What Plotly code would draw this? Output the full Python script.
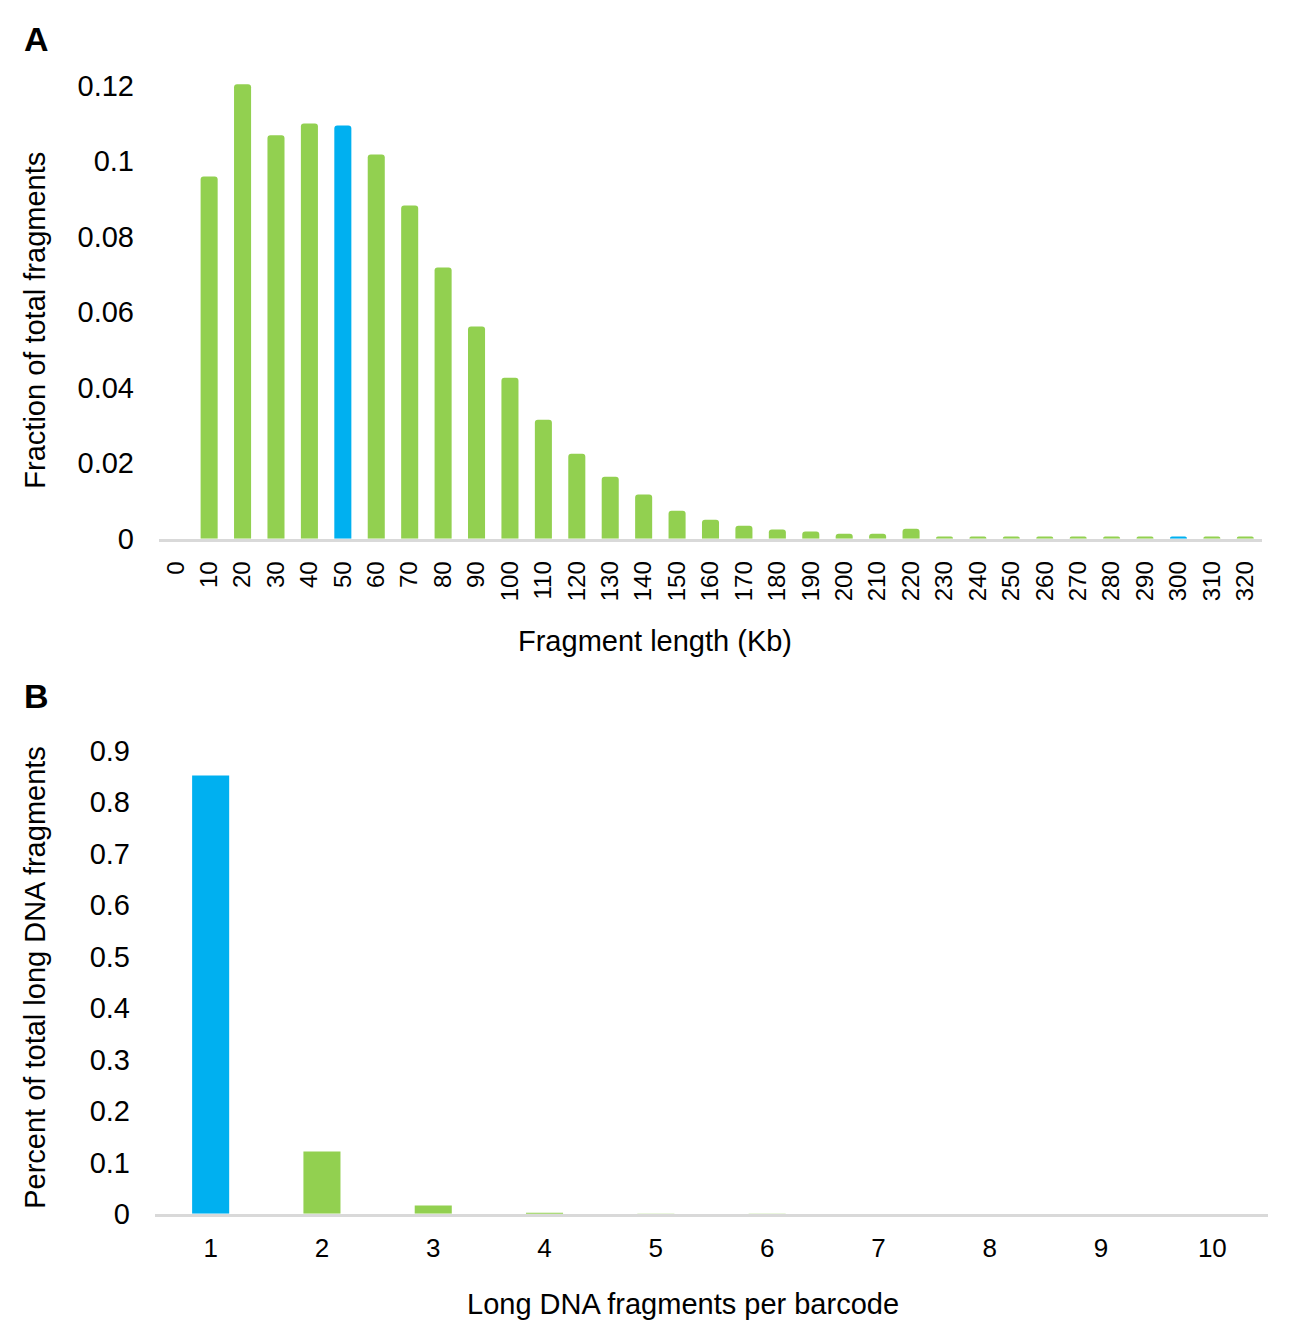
import plotly.graph_objects as go

W, H = 1274, 1345
OFFX, OFFY = 8, 24
YS = 0.976  # vertical scale observed between page and picture

# Panel A data
lengths_kb = [str(v) for v in range(0, 330, 10)]
fraction = [0, 0.0959, 0.1203, 0.1068, 0.1099, 0.1094, 0.1017, 0.0882, 0.0718, 0.0562,
            0.0426, 0.0315, 0.0225, 0.0164, 0.0117, 0.0074, 0.0050, 0.0034, 0.0024, 0.0019,
            0.0013, 0.0013, 0.0026, 0.0006, 0.0006, 0.0006, 0.0006, 0.0006, 0.0006, 0.0006,
            0.0006, 0.0006, 0.0006]
highlight_a = ["50", "300"]

# Panel B data
per_barcode = [str(v) for v in range(1, 11)]
percent = [0.852, 0.121, 0.016, 0.0008, 0.0002, 0.0001, 0, 0, 0, 0]
highlight_b = ["1"]

GREEN = "#92D050"
BLUE = "#00B0F0"
AXIS = "#D9D9D9"
FONT = "Liberation Sans, Arial, sans-serif"

cols_a = [BLUE if c in highlight_a else GREEN for c in lengths_kb]
cols_b = [BLUE if c in highlight_b else GREEN for c in per_barcode]

def px(x):
    return (x - OFFX) / W

def py(y):
    return 1 - (y / YS - OFFY) / H

fig = go.Figure()
fig.add_trace(go.Bar(x=lengths_kb, y=fraction, marker=dict(color=cols_a, cornerradius=3, line=dict(width=0)),
                     xaxis="x", yaxis="y", showlegend=False))
fig.add_trace(go.Bar(x=per_barcode, y=percent, marker=dict(color=cols_b, line=dict(width=0)),
                     width=0.333, xaxis="x2", yaxis="y2", showlegend=False))

ytickfont = dict(family=FONT, size=29, color="#000000")

fig.update_layout(
    width=W, height=H,
    margin=dict(l=0, r=0, t=0, b=0),
    paper_bgcolor="white", plot_bgcolor="white",
    bargap=0.49,
    font=dict(family=FONT, color="#000000"),
    xaxis=dict(domain=[px(159), px(1262)], anchor="y", type="category",
               showline=True, linecolor=AXIS, linewidth=3, showgrid=False, zeroline=False,
               tickangle=-90, tickfont=dict(family=FONT, size=24, color="#000000"),
               ticks="", ticklabelstandoff=10),
    yaxis=dict(domain=[py(538), py(83)], anchor="x", range=[0, 0.1205],
               tickvals=[0, 0.02, 0.04, 0.06, 0.08, 0.1, 0.12],
               ticktext=["0", "0.02", "0.04", "0.06", "0.08", "0.1", "0.12"],
               showgrid=False, zeroline=False, showline=False, ticks="",
               tickfont=ytickfont, ticklabelstandoff=24),
    xaxis2=dict(domain=[px(155), px(1268)], anchor="y2", type="category",
                showline=True, linecolor=AXIS, linewidth=3, showgrid=False, zeroline=False,
                tickfont=dict(family=FONT, size=26, color="#000000"), ticks="", ticklabelstandoff=9),
    yaxis2=dict(domain=[py(1213), py(750)], anchor="x2", range=[0, 0.9],
                tickvals=[0, 0.1, 0.2, 0.3, 0.4, 0.5, 0.6, 0.7, 0.8, 0.9],
                ticktext=["0", "0.1", "0.2", "0.3", "0.4", "0.5", "0.6", "0.7", "0.8", "0.9"],
                showgrid=False, zeroline=False, showline=False, ticks="",
                tickfont=ytickfont, ticklabelstandoff=24),
)

ann = []
def add_text(text, x, y, size, angle=0, bold=False):
    ann.append(dict(text=("<b>%s</b>" % text) if bold else text, x=px(x), y=py(y),
                    xref="paper", yref="paper", showarrow=False, textangle=angle,
                    xanchor="center", yanchor="middle",
                    font=dict(family=FONT, size=size, color="#000000")))

add_text("A", 36, 38, 34, bold=True)
add_text("B", 36, 695, 34, bold=True)
add_text("Fragment length (Kb)", 655, 640, 29)
add_text("Fraction of total fragments", 35, 320, 29, angle=-90)
add_text("Long DNA fragments per barcode", 683, 1303, 29)
add_text("Percent of total long DNA fragments", 35, 977, 29, angle=-90)
fig.update_layout(annotations=ann)

fig.write_html("out.html")
